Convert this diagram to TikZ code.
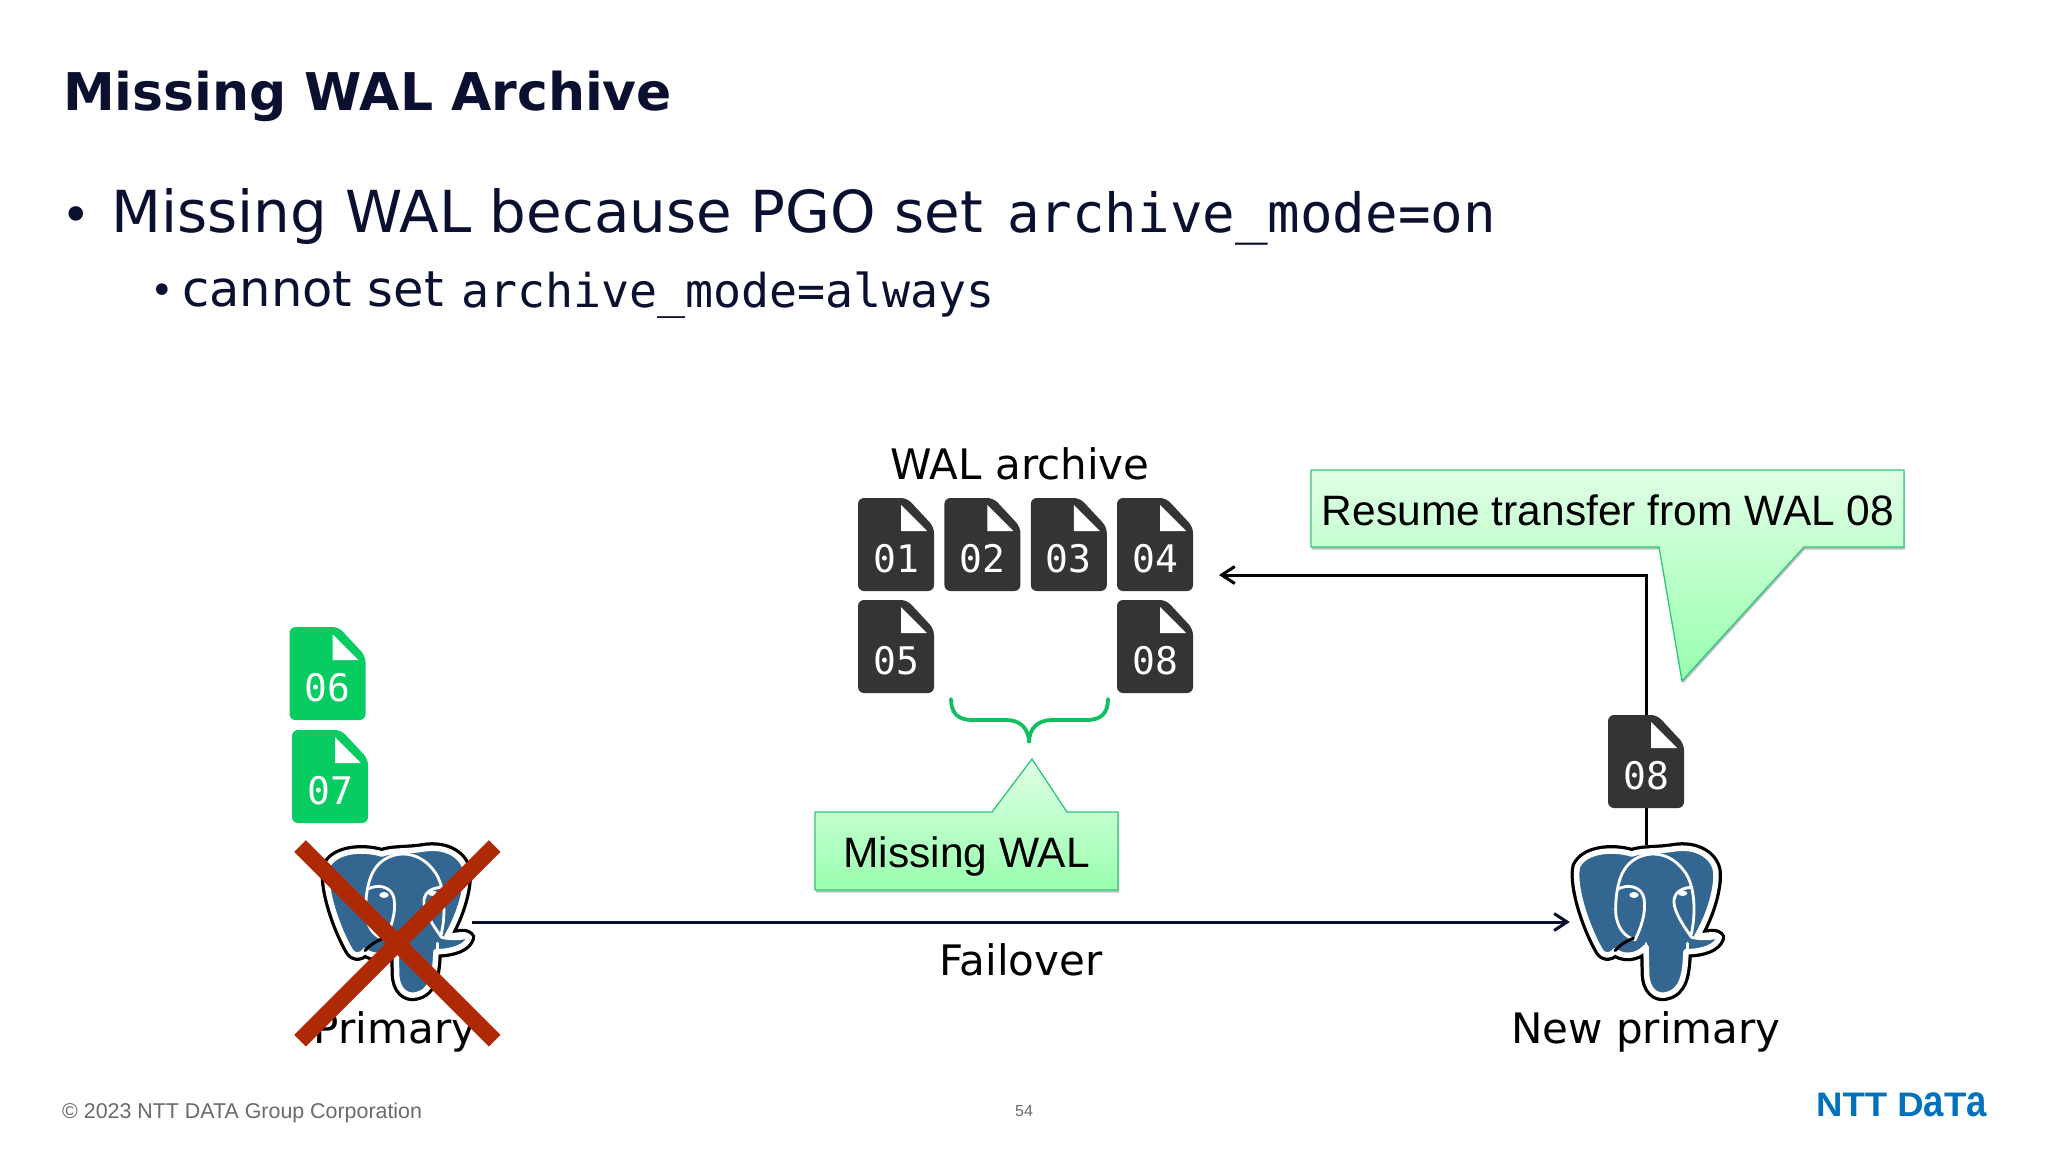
\documentclass[tikz,border=0pt]{standalone}
\usepackage{xcolor}
\usepackage{fontspec}
\setmainfont{DejaVu Sans}
\setmonofont{DejaVu Sans Mono}
\newfontfamily\arialfont{Liberation Sans}
\usetikzlibrary{positioning,calc,arrows.meta,shadows}

\definecolor{inkdark}{HTML}{0B1030}
\definecolor{filegray}{HTML}{343436}
\definecolor{filegreen}{HTML}{06CC62}
\definecolor{pgblue}{HTML}{336791}
\definecolor{crossred}{HTML}{AE2A05}
\definecolor{bracegreen}{HTML}{10C060}
\definecolor{callborder}{HTML}{2CC77A}
\definecolor{calltop}{HTML}{E0FFE5}
\definecolor{callbottom}{HTML}{98FFAE}
\definecolor{footgray}{HTML}{6A6A6A}
\definecolor{logoblue}{HTML}{0072BC}

\newcommand{\sized}[1]{\fontsize{#1}{#1}\selectfont}

\tikzset{
    plaintext/.style={inner sep=0pt, anchor=base west, text=inkdark},
    labeltext/.style={inner sep=0pt, anchor=base, text=black, font=\sized{42}},
    filenum/.style={inner sep=0pt, anchor=base, text=white, font=\ttfamily\sized{38}},
    calltext/.style={inner sep=0pt, anchor=base, text=black, font=\arialfont\sized{42.5}},
    callshape/.style={draw=callborder, line width=1.3pt, top color=calltop, bottom color=callbottom,
        drop shadow={shadow xshift=1pt, shadow yshift=-2.5pt, opacity=.25, fill=black}},
    pgslot/.style={inner sep=0pt, minimum width=152pt, minimum height=154pt},
    flowline/.style={draw=inkdark, line width=3pt},
    flowarrow/.style={flowline, -{Straight Barb[length=13pt, width=17pt, line width=3pt]}},
    pics/walfile/.style={code={
        \fill[#1, rounded corners=6pt] (-38,-46.5) -- (11,-46.5) -- (38,-17.5) -- (38,46.5) -- (-38,46.5) -- cycle;
        \fill[white] (5,-39.5) -- (5,-13.5) -- (31,-13.5) -- cycle;
    }},
    pics/pgelephant/.style={code={
        \begin{scope}[x=.3333pt, y=-.3333pt]
        % silhouette: black ring, white ring, blue body
        \def\pgbody{(395,522) .. controls (340,505) and (255,510) .. (232,560)
            .. controls (220,620) and (260,740) .. (300,810)
            .. controls (312,830) and (330,830) .. (345,812)
            .. controls (360,830) and (410,835) .. (438,800)
            -- (440,880) .. controls (440,930) and (470,950) .. (495,945)
            .. controls (550,935) and (555,880) .. (558,815)
            .. controls (610,815) and (650,800) .. (658,772)
            .. controls (650,760) and (625,765) .. (590,770)
            .. controls (620,720) and (650,640) .. (648,580)
            .. controls (645,530) and (590,495) .. (520,507)
            .. controls (470,515) and (430,510) .. (395,522) -- cycle}
        \draw[black, line width=12pt, line join=round] \pgbody;
        \draw[white, fill=pgblue, line width=5.5pt, line join=round] \pgbody;
        % head and eyes
        \draw[white, line width=2.8pt, line cap=round] (572,770) .. controls (590,700) and (585,610) .. (550,570)
            .. controls (520,530) and (470,510) .. (420,530) .. controls (370,550) and (350,600) .. (347,680)
            .. controls (345,730) and (365,765) .. (400,778);
        \draw[white, line width=2.8pt, line cap=round] (352,628) .. controls (385,610) and (425,620) .. (432,655)
            .. controls (440,700) and (420,750) .. (405,780);
        \draw[white, line width=2.8pt, line cap=round] (572,622) .. controls (540,625) and (520,640) .. (522,670)
            .. controls (525,700) and (555,745) .. (575,772) .. controls (585,775) and (620,780) .. (650,772);
        \draw[white, line width=2.8pt, line cap=round] (562,790) -- (562,815) (438,790) -- (438,815);
        \draw[black, line width=3pt, line cap=round] (345,812) .. controls (360,795) and (375,785) .. (400,775);
        \fill[white] (402,645) ellipse [x radius=14, y radius=9];
        \fill[white] (548,640) ellipse [x radius=14, y radius=8];
        \end{scope}
    }}
}

\begin{document}
\begin{tikzpicture}[x=1pt, y=-1pt]
    \useasboundingbox (0,0) rectangle (2048,1152);
    \fill[white] (0,0) rectangle (2048,1152);

    \node[plaintext, font=\bfseries\sized{52}] (title) at (63,110) {Missing WAL Archive};
    \node[plaintext, font=\sized{50}] (dot1) at (61,232) {•};
    \node[plaintext, font=\sized{57.9}] (line1) at (111,232) {Missing WAL because PGO set};
    \node[plaintext, font=\ttfamily\sized{54.1}] (mono1) at (1007,232) {archive\_mode=on};
    \node[plaintext, font=\sized{40}] (dot2) at (150,304) {•};
    \node[plaintext, font=\sized{49.5}] (line2) at (182,306) {cannot set};
    \node[plaintext, font=\ttfamily\sized{46.6}] (mono2) at (461,307) {archive\_mode=always};

    \pic at (250,680) {pgelephant};
    \pic at (1500,680) {pgelephant};
    \node[pgslot] (pgold) at (396,922) {};
    \node[pgslot] (pgnew) at (1646,922) {};
    \coordinate (archin) at (1219,575);

    \node[labeltext] (primary) at (395,1043) {Primary};
    \node[labeltext] (newprimary) at (1646,1043) {New primary};
    \node[labeltext] (failover) at (1021,975) {Failover};
    \node[labeltext] (archive) at (1020,479) {WAL archive};

    \draw[flowarrow] (pgold) -- (pgnew);
    \draw[flowarrow, draw=black] (pgnew.north) |- (archin);

    \foreach \name/\fx/\fy in {01/896/544.5, 02/982.4/544.5, 03/1068.8/544.5, 04/1155/544.5, 05/896/646.5, 08/1155/646.5} {
        \pic at (\fx,\fy) {walfile=filegray};
        \node[filenum] (wal\name) at (\fx,\fy+27.5) {\name};
    }
    \foreach \name/\fx/\fy in {06/327.5/673.5, 07/330/776.5} {
        \pic at (\fx,\fy) {walfile=filegreen};
        \node[filenum] (wal\name) at (\fx,\fy+27.5) {\name};
    }
    \pic at (1646,761.5) {walfile=filegray};
    \node[filenum] (newwal08) at (1646,789) {08};

    % failed primary
    \coordinate (crossa) at (300,846);
    \coordinate (crossb) at (494.7,1040.7);
    \coordinate (crossc) at (494.7,846);
    \coordinate (crossd) at (300,1040.7);
    \draw[crossred, line width=16.5pt] (crossa) -- (crossb);
    \draw[crossred, line width=16.5pt] (crossc) -- (crossd);

    \draw[bracegreen, line width=3.8pt, line cap=round] (951,699) .. controls (951,713) and (958,720) .. (972,720)
        -- (1006,720) .. controls (1020,720) and (1029,728) .. (1029,743)
        .. controls (1029,728) and (1038,720) .. (1052,720) -- (1087,720)
        .. controls (1101,720) and (1108,713) .. (1108,699);

    \path[callshape] (815,812) -- (992,812) -- (1032,759) -- (1067,812) -- (1118,812) -- (1118,890) -- (815,890) -- cycle;
    \node[calltext] (missing) at (966.5,867) {Missing WAL};

    \path[callshape] (1311,470) -- (1904,470) -- (1904,547) -- (1804,547) -- (1682,681) -- (1659,547) -- (1311,547) -- cycle;
    \node[calltext] (resume) at (1608,525) {Resume transfer from WAL 08};

    \node[plaintext, text=footgray, font=\arialfont\sized{21.4}] (copyright) at (62,1118) {© 2023 NTT DATA Group Corporation};
    \node[inner sep=0pt, anchor=base, text=footgray, font=\arialfont\sized{16}] (pagenum) at (1024,1116) {54};
    \node[plaintext, text=logoblue, font=\arialfont\bfseries\sized{34}] (logo) at (1816,1116)
        {\scalebox{1.075}[1]{NTT D\scalebox{1}[1.3]{a}T\scalebox{1}[1.3]{a}}};
\end{tikzpicture}
\end{document}
